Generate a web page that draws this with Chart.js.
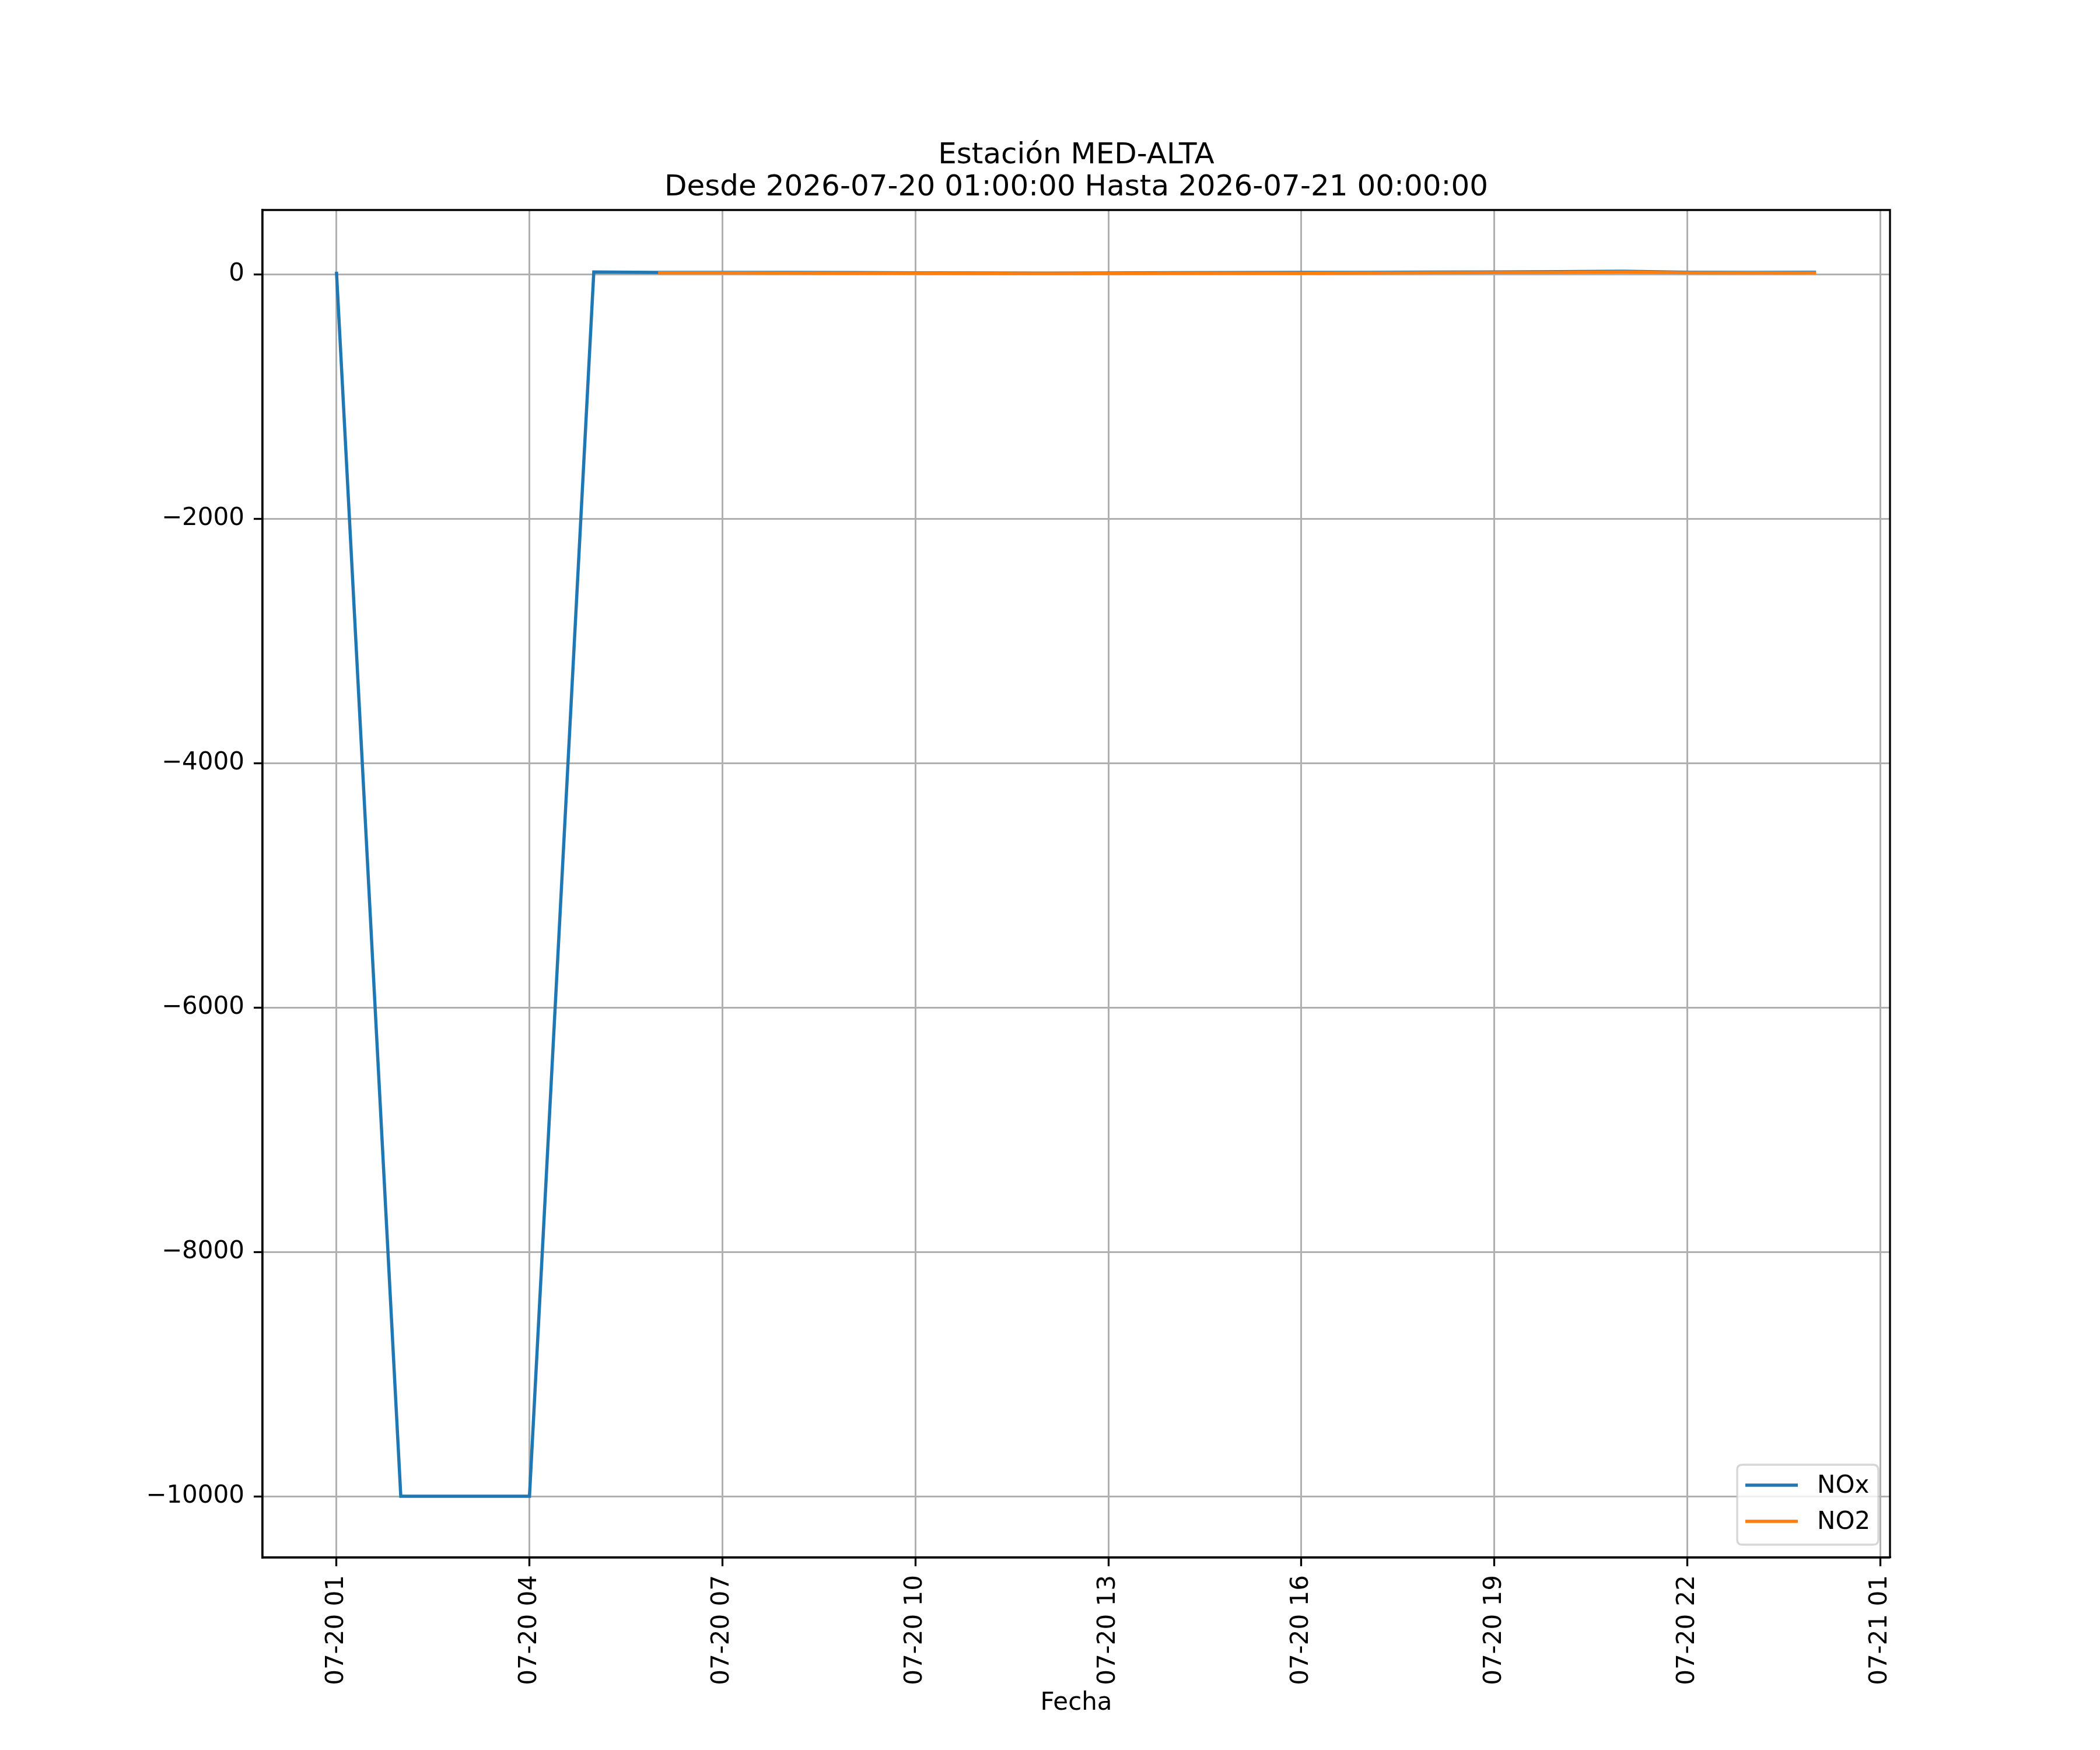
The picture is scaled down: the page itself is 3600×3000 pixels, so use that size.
<!DOCTYPE html>
<html>
<head>
<meta charset="utf-8">
<script src="https://cdn.jsdelivr.net/npm/chart.js@4.4.1/dist/chart.umd.min.js"></script>
<style>
html,body{margin:0;padding:0;background:#ffffff;}
canvas{display:block;}
</style>
</head>
<body>
<canvas id="chart" width="3600" height="3000" style="width:3600px;height:3000px"></canvas>
<script>
// ---- data ----
const titleLines = ['Estación MED-ALTA', 'Desde 2026-07-20 01:00:00 Hasta 2026-07-21 00:00:00'];
const xAxisTitle = 'Fecha';
// hours since 2026-07-20 00:00 (01:00 ... 24:00 = 07-21 00:00)
const hours = [1, 2, 3, 4, 5, 6, 7, 8, 9, 10, 11, 12, 13, 14, 15, 16, 17, 18, 19, 20, 21, 22, 23, 24];
const noxValues = [20, -10000, -10000, -10000, 18, 15, 15, 14, 13, 11, 10, 9, 10, 12, 13, 14, 15, 17, 18, 20, 24, 16, 15, 16];
const no2Values = [null, null, null, null, null, 11, 11, 10, 9, 8, 6, 5, 6, 8, 9, 9, 10, 12, 13, 14, 18, 12, 11, 11];
const seriesNames = ['NOx', 'NO2'];
const seriesColors = ['#1f77b4', '#ff7f0e'];
const xTickValues = [1, 4, 7, 10, 13, 16, 19, 22, 25];
const xTickLabels = ['07-20 01', '07-20 04', '07-20 07', '07-20 10', '07-20 13', '07-20 16', '07-20 19', '07-20 22', '07-21 01'];
const yTickValues = [-10000, -8000, -6000, -4000, -2000, 0];
const yTickLabels = ['\u221210000', '\u22128000', '\u22126000', '\u22124000', '\u22122000', '0'];

// ---- axis limits with 5% margins (matplotlib style) ----
const allVals = noxValues.concat(no2Values).filter(v => v !== null);
const dMin = Math.min(...allVals), dMax = Math.max(...allVals);
const yMin = dMin - 0.05 * (dMax - dMin), yMax = dMax + 0.05 * (dMax - dMin);
const hMin = Math.min(...hours), hMax = Math.max(...hours);
const xMin = hMin - 0.05 * (hMax - hMin), xMax = hMax + 0.05 * (hMax - hMin);

const FONT = 'DejaVu Sans';
const TICK_PX = 42;

const framePlugin = {
  id: 'frameAndText',
  afterDraw(chart) {
    const ctx = chart.ctx;
    const a = chart.chartArea;
    ctx.save();
    // spines (top & right; left/bottom drawn by axis borders)
    ctx.strokeStyle = '#000';
    ctx.lineWidth = 3.3;
    ctx.beginPath();
    ctx.moveTo(a.left, a.top);
    ctx.lineTo(a.right, a.top);
    ctx.lineTo(a.right, a.bottom);
    ctx.stroke();
    ctx.beginPath();
    ctx.moveTo(a.left, a.top);
    ctx.lineTo(a.left, a.bottom);
    ctx.lineTo(a.right, a.bottom);
    ctx.stroke();

    // title
    ctx.fillStyle = '#000';
    ctx.font = '50px "' + FONT + '"';
    ctx.textAlign = 'center';
    ctx.textBaseline = 'alphabetic';
    const cx = (a.left + a.right) / 2;
    ctx.fillText(titleLines[0], cx, a.top - 80);
    ctx.fillText(titleLines[1], cx, a.top - 25);

    // legend (lower right, inside axes)
    const bw = 242, bh = 137;
    const bx = a.right - 20 - bw, by = a.bottom - 22 - bh;
    const r = 9;
    ctx.beginPath();
    ctx.moveTo(bx + r, by);
    ctx.lineTo(bx + bw - r, by);
    ctx.quadraticCurveTo(bx + bw, by, bx + bw, by + r);
    ctx.lineTo(bx + bw, by + bh - r);
    ctx.quadraticCurveTo(bx + bw, by + bh, bx + bw - r, by + bh);
    ctx.lineTo(bx + r, by + bh);
    ctx.quadraticCurveTo(bx, by + bh, bx, by + bh - r);
    ctx.lineTo(bx, by + r);
    ctx.quadraticCurveTo(bx, by, bx + r, by);
    ctx.closePath();
    ctx.fillStyle = 'rgba(255,255,255,0.8)';
    ctx.fill();
    ctx.strokeStyle = 'rgba(204,204,204,0.8)';
    ctx.lineWidth = 3.3;
    ctx.stroke();
    chart.data.datasets.forEach((ds, i) => {
      const yy = by + 35 + i * 62;
      ctx.strokeStyle = ds.borderColor;
      ctx.lineWidth = 5.5;
      ctx.beginPath();
      ctx.moveTo(bx + 14, yy);
      ctx.lineTo(bx + 104, yy);
      ctx.stroke();
      ctx.fillStyle = '#000';
      ctx.font = TICK_PX + 'px "' + FONT + '"';
      ctx.textAlign = 'left';
      ctx.textBaseline = 'middle';
      ctx.fillText(ds.label, bx + 137, yy + 2);
    });
    ctx.restore();
  }
};

new Chart(document.getElementById('chart'), {
  type: 'line',
  data: {
    datasets: [
      {
        label: seriesNames[0],
        data: hours.map((h, i) => ({ x: h, y: noxValues[i] })),
        borderColor: seriesColors[0],
        backgroundColor: seriesColors[0],
        borderWidth: 5.5,
        pointRadius: 0,
        tension: 0,
        fill: false,
        order: 1
      },
      {
        label: seriesNames[1],
        data: hours.map((h, i) => ({ x: h, y: no2Values[i] })),
        borderColor: seriesColors[1],
        backgroundColor: seriesColors[1],
        borderWidth: 5.5,
        pointRadius: 0,
        tension: 0,
        fill: false,
        spanGaps: false,
        order: 0
      }
    ]
  },
  options: {
    responsive: false,
    animation: false,
    devicePixelRatio: 1,
    layout: { padding: { top: 360, right: 360, left: 0, bottom: 0 } },
    plugins: {
      legend: { display: false },
      title: { display: false },
      tooltip: { enabled: false }
    },
    scales: {
      x: {
        type: 'linear',
        min: xMin,
        max: xMax,
        afterBuildTicks(scale) { scale.ticks = xTickValues.map(v => ({ value: v })); },
        afterFit(scale) { scale.height = 330; },
        grid: { color: '#b0b0b0', lineWidth: 3, tickLength: 15, tickColor: '#000', tickWidth: 3.3 },
        border: { display: true, color: '#000', width: 3.3 },
        ticks: {
          color: '#000',
          font: { family: FONT, size: TICK_PX },
          padding: 15,
          minRotation: 90,
          maxRotation: 90,
          autoSkip: false,
          callback(value) { const k = xTickValues.indexOf(value); return k >= 0 ? xTickLabels[k] : ''; }
        },
        title: {
          display: true,
          text: xAxisTitle,
          color: '#000',
          font: { family: FONT, size: TICK_PX },
          padding: { top: 0, bottom: 55 }
        }
      },
      y: {
        type: 'linear',
        min: yMin,
        max: yMax,
        afterBuildTicks(scale) { scale.ticks = yTickValues.map(v => ({ value: v })); },
        afterFit(scale) { scale.width = 450; },
        grid: { color: '#b0b0b0', lineWidth: 3, tickLength: 15, tickColor: '#000', tickWidth: 3.3 },
        border: { display: true, color: '#000', width: 3.3 },
        ticks: {
          color: '#000',
          font: { family: FONT, size: TICK_PX },
          padding: 16,
          autoSkip: false,
          callback(value) { const k = yTickValues.indexOf(value); return k >= 0 ? yTickLabels[k] : ''; }
        }
      }
    }
  },
  plugins: [framePlugin]
});
</script>
</body>
</html>
